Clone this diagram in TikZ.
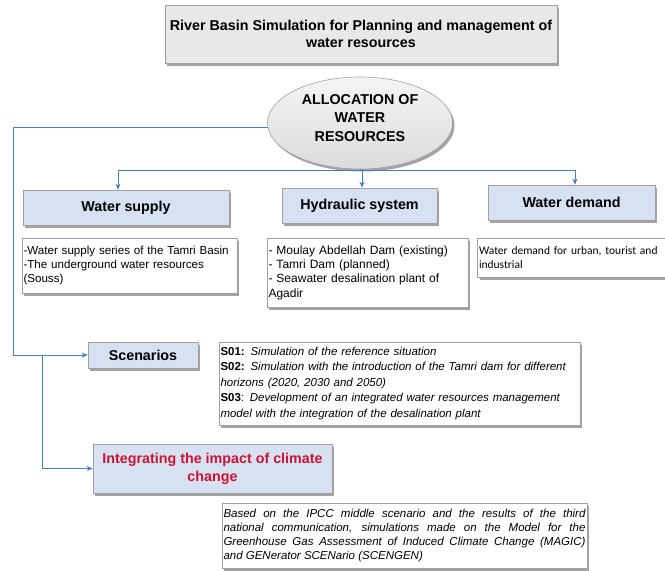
\documentclass[tikz,border=0pt]{standalone}
\usepackage{fontspec}
\setmainfont{Liberation Sans}
\newfontfamily\calib{Carlito}
\usetikzlibrary{shapes.geometric,shadows,arrows.meta}
\definecolor{conncol}{RGB}{74,126,187}
\definecolor{boxblue}{RGB}{216,225,241}
\definecolor{boxgrey}{RGB}{232,232,232}
\definecolor{edgecol}{RGB}{160,160,160}
\definecolor{redtxt}{RGB}{200,20,50}
\begin{document}
\begin{tikzpicture}[x=1pt,y=-1pt,
  shd/.style={drop shadow={shadow xshift=2pt,shadow yshift=-2.5pt,fill=black!60,opacity=.6}},
  titlebox/.style={draw=edgecol,fill=boxgrey,shd,line width=0.6pt,inner sep=0pt,align=center,
    font=\fontsize{14.3}{16.7}\selectfont\bfseries},
  ellbox/.style={ellipse,draw=edgecol,top color=gray!8,bottom color=gray!28,shd,line width=0.6pt,inner sep=0pt},
  elltxt/.style={align=center,inner sep=0pt,font=\fontsize{14.3}{18.5}\selectfont\bfseries},
  bluebox/.style={draw=edgecol,fill=boxblue,shd,line width=0.6pt,inner sep=0pt,align=center,
    font=\fontsize{14.3}{18}\selectfont\bfseries},
  txtbox/.style={draw=edgecol,fill=white,shd,line width=0.6pt,inner xsep=1.5pt,inner ysep=0pt,align=left,
    font=\fontsize{11.6}{14.4}\selectfont},
  conn/.style={draw=conncol,line width=1pt},
  arr/.style={conn,-{Stealth[length=6pt,width=5pt]}}
]
\useasboundingbox (0,0) rectangle (665,571);

% title and ellipse
\node[titlebox,minimum width=392,minimum height=58] (title) at (361,34)
  {River Basin Simulation for Planning and management of\\water resources};
\node[ellbox,minimum width=185,minimum height=92] (ell) at (360,123) {};
\node[elltxt] (elltext) at (360,118) {ALLOCATION OF\\WATER\\RESOURCES};

% three categories
\node[bluebox,minimum width=206,minimum height=35] (supply) at (126,207.5) {Water supply};
\node[bluebox,minimum width=155,minimum height=35] (hyd) at (359.5,205.5) {Hydraulic system};
\node[bluebox,minimum width=167,minimum height=35] (dem) at (571.5,202.5) {Water demand};

\node[txtbox,minimum height=55,text width=212] (supplytxt) at (129.5,265.5)
  {-Water supply series of the Tamri Basin\\-The underground water resources\\(Souss)};
\node[txtbox,minimum height=69,text width=198,font=\fontsize{12}{14.4}\selectfont] (hydtxt) at (367.5,272.5)
  {- Moulay Abdellah Dam (existing)\\- Tamri Dam (planned)\\- Seawater desalination plant of\\Agadir};
\node[txtbox,minimum height=39,text width=186,font=\calib\fontsize{11.5}{14.4}\selectfont] (demtxt) at (572,257.5)
  {Water demand for urban, tourist and\\industrial};

% scenarios
\node[bluebox,minimum width=110,minimum height=26] (scen) at (143,355) {Scenarios};
\node[txtbox,minimum height=83,text width=358,font=\fontsize{11.5}{15.5}\selectfont] (stxt) at (399.5,383.5)
  {\textbf{S01:} \textit{Simulation of the reference situation}\\
   \textbf{S02:} \textit{Simulation with the introduction of the Tamri dam for different}\\
   \textit{horizons (2020, 2030 and 2050)}\\
   \textbf{S03}: \textit{Development of an integrated water resources management}\\
   \textit{model with the integration of the desalination plant}};

% climate change
\node[bluebox,text=redtxt,minimum width=239,minimum height=49] (integ) at (212.5,468.5)
  {Integrating the impact of climate\\change};
\node[txtbox,minimum height=65,text width=362,align=justify,font=\fontsize{11.5}{14.2}\selectfont\itshape] (clim) at (404.5,535.5)
  {Based on the IPCC middle scenario and the results of the third\linebreak
   national communication, simulations made on the Model for the\linebreak
   Greenhouse Gas Assessment of Induced Climate Change (MAGIC)\linebreak
   and GENerator SCENario (SCENGEN)};

% connectors
\coordinate (bL) at (118,170);
\coordinate (bM) at (362,170);
\coordinate (bR) at (575,170);
\draw[conn] (bL) -- (bR);
\draw[conn] (ell.south) -- (ell.south |- bM);
\draw[arr] (bL) -- (bL |- supply.north);
\draw[arr] (bM) -- (bM |- hyd.north);
\draw[arr] (bR) -- (bR |- dem.north);

\coordinate (cL) at (13,355);
\coordinate (cM) at (42,355);
\draw[arr] (ell.183) -| (cL) -- (scen.west);
\draw[arr] (cM) |- (integ.west);
\end{tikzpicture}
\end{document}
